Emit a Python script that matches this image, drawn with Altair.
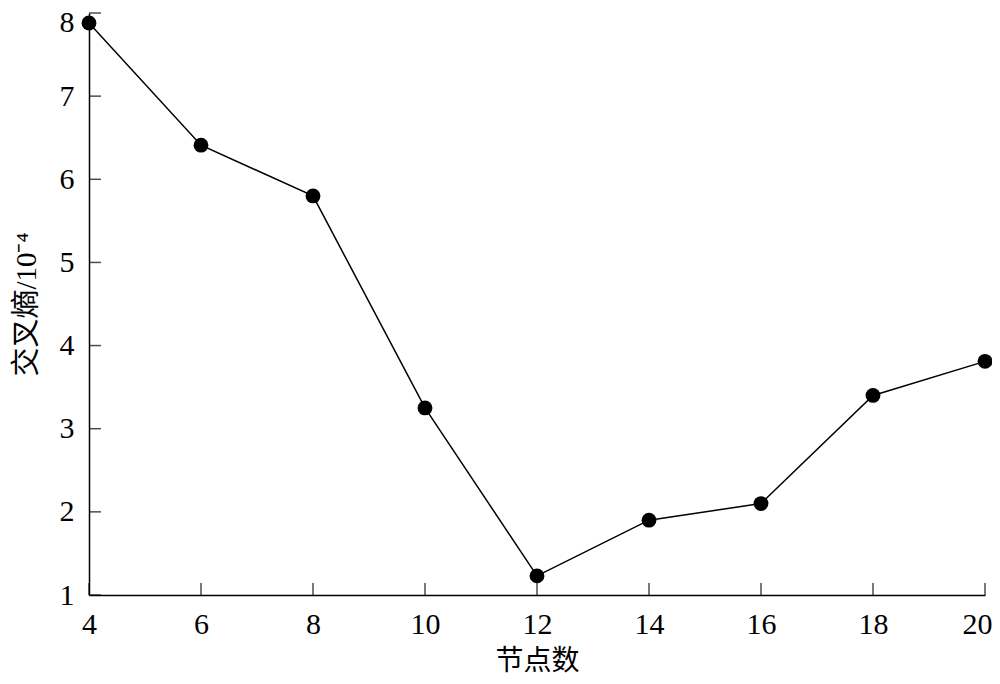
import altair as alt
import pandas as pd

nodes = [4, 6, 8, 10, 12, 14, 16, 18, 20]
entropy = [7.88, 6.41, 5.80, 3.25, 1.23, 1.90, 2.10, 3.40, 3.81]
x_ticks = [4, 6, 8, 10, 12, 14, 16, 18, 20]
y_ticks = [1, 2, 3, 4, 5, 6, 7, 8]

df = pd.DataFrame({"n": nodes, "e": entropy})
xt = pd.DataFrame({"t": x_ticks})
yt = pd.DataFrame({"t": y_ticks})

W, H = 896, 582
FONT = "Liberation Serif, 'Noto Sans CJK SC'"

xscale = alt.Scale(domain=[4, 20], nice=False, zero=False)
yscale = alt.Scale(domain=[1, 8], nice=False, zero=False)

xaxis = alt.Axis(values=x_ticks, format="d", ticks=False, grid=False, title="节点数",
                 labelFontSize=30, titleFontSize=28, labelPadding=14,
                 titlePadding=8, labelFont=FONT, titleFont=FONT,
                 domainColor="black", domainWidth=1.5, labelColor="black",
                 titleColor="black", titleFontWeight="normal", labelFlush=False,
                 labelAlign=alt.ExprRef(expr="datum.value == 20 ? 'right' : 'center'"),
                 labelOffset=alt.ExprRef(expr="datum.value == 20 ? 7 : 0"))
yaxis = alt.Axis(values=y_ticks, format="d", ticks=False, grid=False, title="交叉熵/10⁻⁴",
                 labelFontSize=30, titleFontSize=29, labelPadding=15,
                 titlePadding=18, labelFont=FONT, titleFont=FONT,
                 domainColor="black", domainWidth=1.5, labelColor="black",
                 titleColor="black", titleFontWeight="normal", labelFlush=False,
                 labelOffset=alt.ExprRef(expr="datum.value == 8 ? 9 : 0"))

line = alt.Chart(df).mark_line(color="black", strokeWidth=1.5).encode(
    x=alt.X("n:Q", scale=xscale, axis=xaxis),
    y=alt.Y("e:Q", scale=yscale, axis=yaxis),
)
pts = alt.Chart(df).mark_point(filled=True, color="black", opacity=1, size=220).encode(
    x=alt.X("n:Q", scale=xscale),
    y=alt.Y("e:Q", scale=yscale),
)
xtick = alt.Chart(xt).mark_tick(color="black", thickness=1.5, size=12,
                                orient="vertical").encode(
    x=alt.X("t:Q", scale=xscale),
    y=alt.value(H - 6),
)
ytick = alt.Chart(yt).mark_tick(color="black", thickness=1.5, size=12,
                                orient="horizontal").encode(
    y=alt.Y("t:Q", scale=yscale),
    x=alt.value(6),
)

chart = alt.layer(line, xtick, ytick, pts).properties(
    width=W, height=H,
    background="white",
    autosize=alt.AutoSizeParams(type="none"),
    padding={"left": 81, "top": 5, "right": 7, "bottom": 81},
).configure_view(stroke=None)

chart.save("out.html", embed_options={"renderer": "svg", "actions": False})
